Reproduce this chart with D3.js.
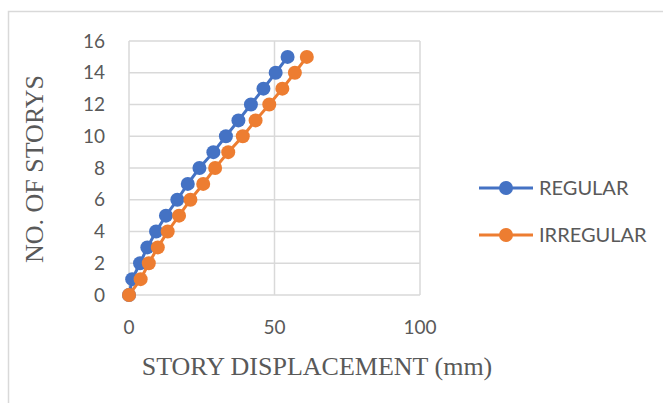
<!DOCTYPE html>
<html><head><meta charset="utf-8">
<script src="https://cdn.jsdelivr.net/npm/d3@7"></script>
<style>body{margin:0;background:#fff}svg{display:block}</style>
</head><body><svg id="c" width="663" height="403"></svg>
<script>
const stories = [0,1,2,3,4,5,6,7,8,9,10,11,12,13,14,15];
const regular = [0,1.1,3.8,6.3,9.3,12.7,16.6,20.2,24.2,29.0,33.3,37.6,41.9,46.2,50.4,54.5];
const irregular = [0,4.0,6.8,9.9,13.3,17.2,21.1,25.5,29.6,34.1,39.1,43.5,48.2,52.7,57.0,61.1];
const xTicks = [0,50,100];
const yTicks = [0,2,4,6,8,10,12,14,16];
const seriesNames = ["REGULAR","IRREGULAR"];
const colors = ["#4472C4","#ED7D31"];

const svg = d3.select("#c");
svg.append("rect").attr("x",8.5).attr("y",11.5).attr("width",700).attr("height",420)
  .attr("fill","#fff").attr("stroke","#d9d9d9").attr("stroke-width",1.5);

const x = d3.scaleLinear().domain([0,100]).range([129,420]);
const y = d3.scaleLinear().domain([0,16]).range([295,41]);
const grid = "#d9d9d9", txt = "#595959";

svg.append("g").selectAll("line").data(yTicks).join("line")
  .attr("x1",x(0)).attr("x2",x(100)).attr("y1",d=>y(d)).attr("y2",d=>y(d))
  .attr("stroke",grid).attr("stroke-width",1.5);
svg.append("g").selectAll("line").data(xTicks).join("line")
  .attr("y1",y(0)).attr("y2",y(16)).attr("x1",d=>x(d)).attr("x2",d=>x(d))
  .attr("stroke",grid).attr("stroke-width",1.5);

svg.append("g").selectAll("text").data(yTicks).join("text")
  .attr("x",105).attr("y",d=>y(d)).attr("dy","0.35em").attr("text-anchor","end")
  .attr("font-family","Lato, 'Open Sans', sans-serif").attr("font-size",19).attr("fill",txt)
  .text(d=>d);
svg.append("g").selectAll("text").data(xTicks).join("text")
  .attr("x",d=>x(d)).attr("y",327).attr("dy","0.35em").attr("text-anchor","middle")
  .attr("font-family","Lato, 'Open Sans', sans-serif").attr("font-size",19).attr("fill",txt)
  .text(d=>d);

svg.append("text").attr("x",317).attr("y",375).attr("text-anchor","middle")
  .attr("font-family","'Liberation Serif', 'Times New Roman', serif").attr("font-size",26).attr("fill",txt)
  .text("STORY DISPLACEMENT (mm)");
svg.append("text").attr("transform","translate(43,169) rotate(-90)").attr("text-anchor","middle")
  .attr("font-family","'Liberation Serif', 'Times New Roman', serif").attr("font-size",26).attr("fill",txt)
  .text("NO. OF STORYS");

const data = [regular, irregular];
const line = d3.line().x(d=>x(d[0])).y(d=>y(d[1]));
data.forEach((vals,i)=>{
  const pts = vals.map((v,j)=>[v,stories[j]]);
  const g = svg.append("g");
  g.append("path").attr("d",line(pts)).attr("fill","none").attr("stroke",colors[i]).attr("stroke-width",3);
  g.selectAll("circle").data(pts).join("circle")
    .attr("cx",d=>x(d[0])).attr("cy",d=>y(d[1])).attr("r",7).attr("fill",colors[i]);
});

const leg = svg.append("g");
seriesNames.forEach((n,i)=>{
  const ly = 188 + i*47;
  leg.append("line").attr("x1",479).attr("x2",533).attr("y1",ly).attr("y2",ly)
    .attr("stroke",colors[i]).attr("stroke-width",3);
  leg.append("circle").attr("cx",506).attr("cy",ly).attr("r",7).attr("fill",colors[i]);
  leg.append("text").attr("x",539).attr("y",ly).attr("dy","0.35em")
    .attr("font-family","Lato, 'Open Sans', sans-serif").attr("font-size",20).attr("fill",txt).text(n);
});
</script></body></html>
